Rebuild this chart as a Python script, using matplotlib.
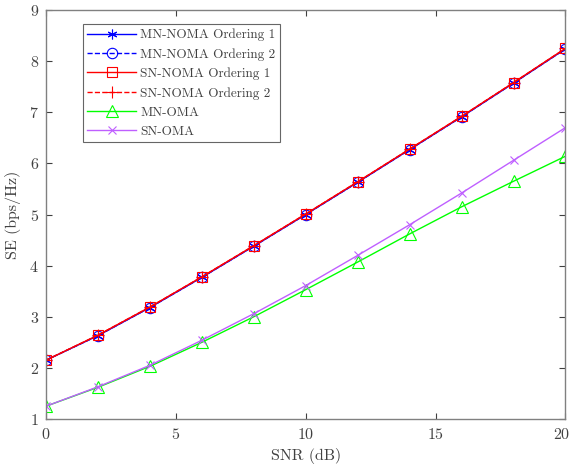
import numpy as np
import matplotlib.pyplot as plt
import matplotlib.transforms as mtrans

plt.rcParams['font.family'] = 'serif'
plt.rcParams['font.serif'] = ['cmr10', 'DejaVu Serif']
plt.rcParams['mathtext.fontset'] = 'cm'
plt.rcParams['axes.formatter.use_mathtext'] = True

"DATA"
snr = [0, 2, 4, 6, 8, 10, 12, 14, 16, 18, 20]
mn_noma_1 = [2.15, 2.63, 3.18, 3.77, 4.38, 5.00, 5.63, 6.27, 6.91, 7.57, 8.24]
mn_noma_2 = [2.15, 2.63, 3.18, 3.77, 4.38, 5.00, 5.63, 6.27, 6.91, 7.57, 8.24]
sn_noma_1 = [2.15, 2.64, 3.19, 3.78, 4.39, 5.01, 5.64, 6.28, 6.92, 7.58, 8.25]
sn_noma_2 = [2.15, 2.64, 3.19, 3.78, 4.39, 5.01, 5.64, 6.28, 6.92, 7.58, 8.25]
mn_oma = [1.25, 1.62, 2.03, 2.50, 3.00, 3.53, 4.07, 4.62, 5.15, 5.65, 6.14]
sn_oma = [1.25, 1.63, 2.05, 2.54, 3.06, 3.61, 4.20, 4.80, 5.42, 6.06, 6.70]

grey = '#404040'
purple = '#bf5fff'
asterisk = (6, 2, 0)

fig = plt.figure(figsize=(5.72, 4.72), dpi=100)
ax = fig.add_axes([0.0804, 0.1123, 0.9082, 0.8665])

ax.plot(snr, mn_noma_1, '-', color='b', marker=asterisk, ms=7, mew=0.8, lw=1.0, label='MN-NOMA Ordering 1')
ax.plot(snr, mn_noma_2, '--', color='b', marker='o', ms=7.5, mfc='none', mew=0.8, lw=1.0, label='MN-NOMA Ordering 2')
ax.plot(snr, sn_noma_1, '-', color='r', marker='s', ms=6.5, mfc='none', mew=0.8, lw=1.0, label='SN-NOMA Ordering 1')
ax.plot(snr, sn_noma_2, '--', color='r', marker='+', ms=8, mew=0.8, lw=1.0, label='SN-NOMA Ordering 2')
ax.plot(snr, mn_oma, '-', color='#00ff00', marker='^', ms=8, mfc='none', mew=0.8, lw=1.0, label='MN-OMA')
ax.plot(snr, sn_oma, '-', color=purple, marker='x', ms=6, mew=0.8, lw=1.0, label='SN-OMA')

ax.set_xlim(0, 20)
ax.set_ylim(1, 9)
ax.set_xticks([0, 5, 10, 15, 20])
ax.set_yticks(range(1, 10))
ax.tick_params(direction='in', top=True, right=True, colors=grey, labelsize=11.5, length=4)
ax.tick_params(axis='x', pad=6)
ax.tick_params(axis='y', pad=5)
for s in ax.spines.values():
    s.set_color('#808080')
    s.set_linewidth(1.0)
ax.set_xlabel('SNR (dB)', fontsize=11.5, color=grey, labelpad=4)
ax.set_ylabel('SE (bps/Hz)', fontsize=11.5, color=grey, labelpad=6)

# keep the last x label inside the figure
last = ax.get_xticklabels()[-1]
last.set_transform(last.get_transform() + mtrans.ScaledTranslation(-2.5 / 72, 0, fig.dpi_scale_trans))

leg = ax.legend(loc='upper left', bbox_to_anchor=(0.071, 0.966), borderaxespad=0, fontsize=9.5,
                frameon=True, fancybox=False, edgecolor=grey, handlelength=3.7,
                borderpad=0.35, labelspacing=0.52, handletextpad=0.3)
leg.get_frame().set_linewidth(0.8)
for t in leg.get_texts():
    t.set_color(grey)

fig.savefig('out.png', dpi=100)
